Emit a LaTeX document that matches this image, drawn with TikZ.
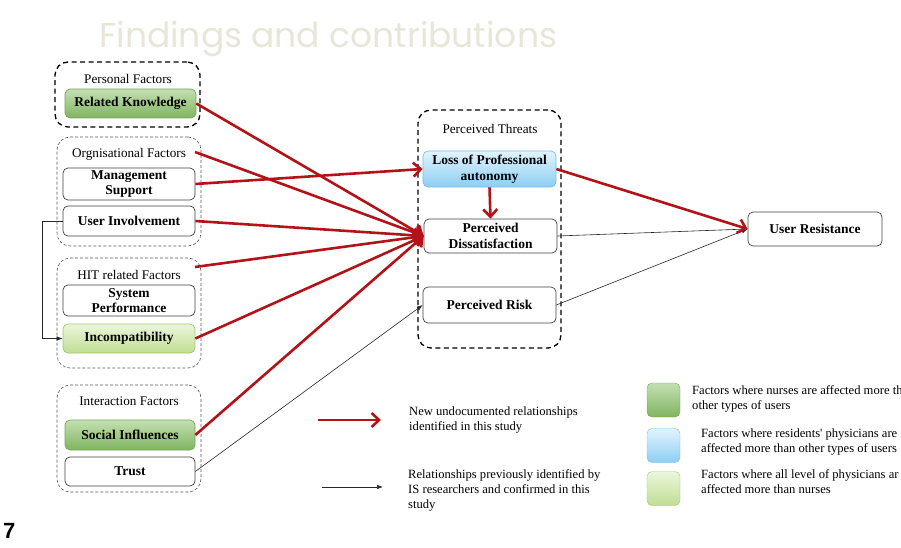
\documentclass[tikz,border=0pt]{standalone}
\usepackage{fontspec}
\setmainfont{Liberation Serif}
\newfontfamily\titlefont{Poppins}
\newfontfamily\numfont{Liberation Sans}
\usetikzlibrary{arrows.meta}
\definecolor{newred}{RGB}{178,18,24}
\definecolor{titlecol}{RGB}{232,230,216}
\definecolor{gtop}{RGB}{196,224,178}
\definecolor{gbot}{RGB}{128,180,96}
\definecolor{gline}{RGB}{120,165,90}
\definecolor{ltop}{RGB}{236,246,220}
\definecolor{lbot}{RGB}{192,222,146}
\definecolor{lline}{RGB}{160,200,110}
\definecolor{btop}{RGB}{226,244,253}
\definecolor{bbot}{RGB}{140,206,244}
\definecolor{bline}{RGB}{120,190,230}
\tikzset{
  fbox/.style={draw=black!75, line width=0.7pt, rounded corners=5pt, fill=white,
    inner sep=0pt, align=center, minimum width=132pt, minimum height=30pt,
    font=\fontsize{13.5}{15.5}\selectfont\bfseries},
  greenbox/.style={fbox, draw=gline, top color=gtop, bottom color=gbot},
  lgreenbox/.style={fbox, draw=lline, top color=ltop, bottom color=lbot},
  bluebox/.style={fbox, draw=bline, top color=btop, bottom color=bbot},
  biggroup/.style={draw=black, line width=1.3pt, dash pattern=on 5pt off 3.5pt,
    rounded corners=13pt, inner sep=0pt},
  smallgroup/.style={draw=black!65, line width=0.6pt, dash pattern=on 3pt off 2pt,
    rounded corners=13pt, inner sep=0pt},
  glabel/.style={font=\fontsize{13.2}{15}\selectfont, inner sep=0pt},
  newrel/.style={draw=newred, line width=2.6pt,
    -{Straight Barb[length=7.5pt,width=14pt,line width=2.6pt]}},
  oldrel/.style={draw=black!85, line width=0.6pt, -{Latex[length=6pt,width=4.5pt]}},
  legtext/.style={font=\fontsize{12.6}{15}\selectfont, align=left, inner sep=0pt, anchor=west},
  legsq/.style={rounded corners=5pt, minimum width=33pt, minimum height=34pt, inner sep=0pt}
}
\begin{document}
\begin{tikzpicture}[x=1pt,y=-1pt]
\useasboundingbox (0,0) rectangle (901,548);
\clip (0,0) rectangle (901,548);

% title and page number
\node[anchor=base west, inner sep=0pt, text=titlecol, font=\titlefont\fontsize{34.5}{38}\selectfont] (title) at (99,48) {Findings and contributions};
\node[anchor=base west, inner sep=0pt, font=\numfont\bfseries\fontsize{22}{24}\selectfont] (pagenum) at (3,538) {7};

% groups
\node[biggroup, minimum width=145pt, minimum height=65pt] (gpers) at (127.5,94.5) {};
\node[smallgroup, minimum width=144pt, minimum height=109pt] (gorg) at (129,191.5) {};
\node[smallgroup, minimum width=144pt, minimum height=110pt] (ghit) at (129,313) {};
\node[smallgroup, minimum width=144pt, minimum height=107pt] (gint) at (129,438.5) {};
\node[biggroup, minimum width=143pt, minimum height=238pt] (gpt) at (489.5,229) {};

\node[glabel] (lpers) at (128,79) {Personal Factors};
\node[glabel] (lorg) at (129,154) {Orgnisational Factors};
\node[glabel] (lhit) at (129,275) {HIT related Factors};
\node[glabel] (lint) at (129,401) {Interaction Factors};
\node[glabel] (lpt) at (490,129) {Perceived Threats};

% factor nodes
\node[greenbox, minimum width=131pt, minimum height=29pt] (rk) at (130.5,103.5) {Related Knowledge};
\node[fbox, minimum height=32pt] (ms) at (129,184) {Management\\Support};
\node[fbox] (ui) at (129,221) {User Involvement};
\node[fbox, minimum height=31pt] (sp) at (129,300.5) {System\\Performance};
\node[lgreenbox, minimum height=29pt] (inc) at (129,338.5) {Incompatibility};
\node[greenbox, minimum width=130pt] (si) at (130,435) {Social Influences};
\node[fbox, minimum width=130pt, minimum height=29pt] (tr) at (130,471.5) {Trust};

% threats
\node[bluebox, minimum width=133pt, minimum height=36pt] (lpa) at (489.5,169) {Loss of Professional\\autonomy};
\node[fbox, minimum width=133pt, minimum height=34pt] (pd) at (490.5,236) {Perceived\\Dissatisfaction};
\node[fbox, minimum width=133pt, minimum height=36pt] (pr) at (489.5,305) {Perceived Risk};

\node[fbox, minimum width=134pt, minimum height=34pt] (ur) at (815,229) {User Resistance};

% free ends on group borders
\coordinate (orgout) at (195,152);
\coordinate (hitout) at (195,267);

% thin (previously identified) relationships
\draw[oldrel] (ui.west) -- ++(-20,0) |- (inc.west);
\draw[oldrel] (tr.east) -- (pr.west);
\draw[oldrel] (pd.east) -- (ur.west);
\draw[oldrel] (pr.east) -- (ur.west);

% new relationships
\draw[newrel] (rk.east) -- (pd.west);
\draw[newrel] (orgout) -- (pd.west);
\draw[newrel] (ms.east) -- (lpa.west);
\draw[newrel] (ui.east) -- (pd.west);
\draw[newrel] (hitout) -- (pd.west);
\draw[newrel] (inc.east) -- (pd.west);
\draw[newrel] (si.east) -- (pd.west);
\draw[newrel] (lpa.south) -- (pd.north);
\draw[newrel] (lpa.east) -- (ur.west);

% legend: arrows
\coordinate (la1) at (318,420);
\coordinate (la2) at (381,420);
\coordinate (lb1) at (322,487);
\coordinate (lb2) at (383,487);
\draw[newrel] (la1) -- (la2);
\draw[oldrel] (lb1) -- (lb2);
\node[legtext] (lt1) at (409,420) {New undocumented relationships\\identified in this study};
\node[legtext] (lt2) at (408,490) {Relationships previously identified by\\IS researchers and confirmed in this\\study};

% legend: colour keys
\node[legsq, draw=gline, top color=gtop, bottom color=gbot] (sq1) at (663.5,400) {};
\node[legsq, draw=bline, top color=btop, bottom color=bbot] (sq2) at (663.5,445.5) {};
\node[legsq, draw=lline, top color=ltop, bottom color=lbot] (sq3) at (663.5,488.5) {};
\node[legtext] (k1) at (692,399) {Factors where nurses are affected more th\\other types of users};
\node[legtext] (k2) at (701,441.5) {Factors where residents\textquotesingle{} physicians are\\affected more than other types of users};
\node[legtext] (k3) at (701,481.5) {Factors where all level of physicians ar\\affected more than nurses};
\end{tikzpicture}
\end{document}
